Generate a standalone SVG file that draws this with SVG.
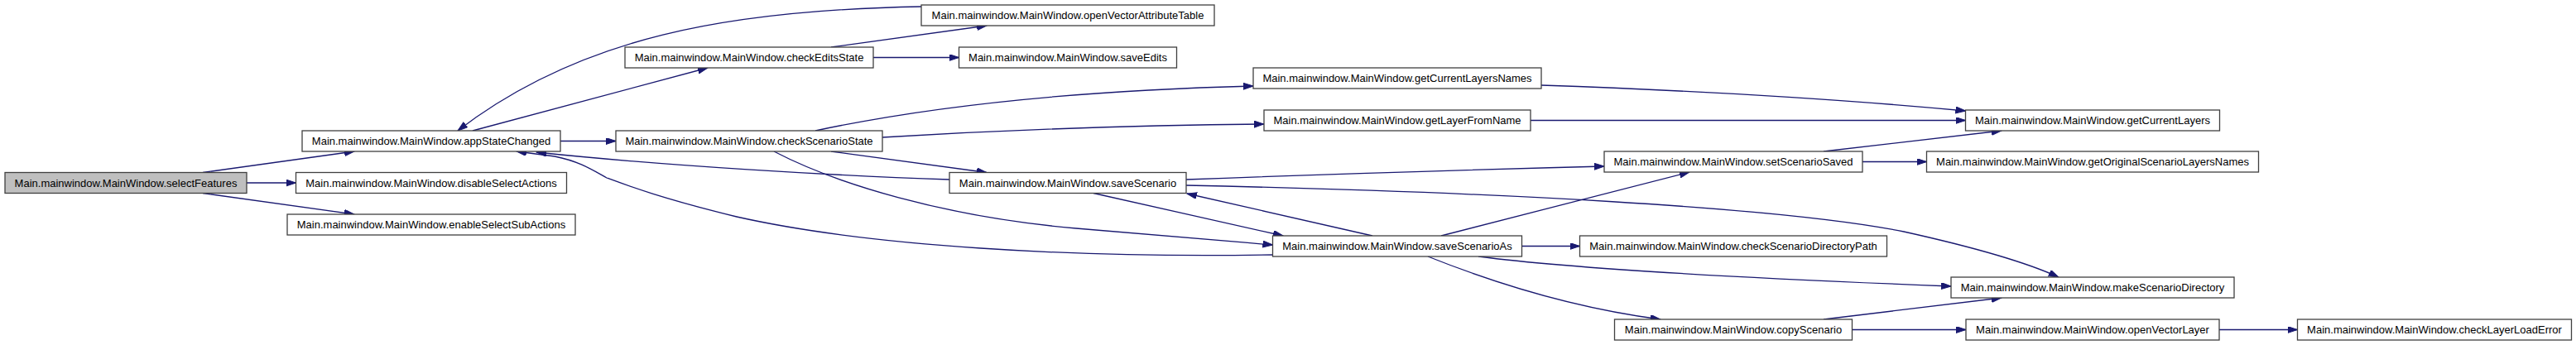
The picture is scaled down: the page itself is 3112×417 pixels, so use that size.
<svg xmlns="http://www.w3.org/2000/svg" width="3112" height="417" viewBox="0 0 3112 417">
<style>
  .node rect { fill: #ffffff; stroke: #404040; stroke-width: 1.3; }
  .node.root rect { fill: #bfbfbf; }
  .node text { font-family: "Liberation Sans", Arial, sans-serif; font-size: 13px; fill: #000000; text-anchor: middle; }
  .edges path { fill: none; stroke: #191970; stroke-width: 1.3; marker-end: url(#arr); }
</style>
<defs>
  <marker id="arr" markerWidth="13" markerHeight="9" refX="12" refY="4" orient="auto" markerUnits="userSpaceOnUse">
    <path d="M0,0 L12,4 L0,8 z" fill="#191970" stroke="#191970" stroke-width="1"/>
  </marker>
</defs>
<rect x="0" y="0" width="3112" height="417" fill="#ffffff"/>

<g id="edges" class="edges">
  <path d="M245,208.5 L428,183"/>
  <path d="M298,221 L357.5,221"/>
  <path d="M245,233.5 L428,259"/>
  <path d="M571,158 L855,82"/>
  <path d="M677,170.5 L744,170.5"/>
  <path d="M1113,8 C880,12 700,45 553,158"/>
  <path d="M1004,57 L1192,31"/>
  <path d="M1055,69.5 L1158.5,69.5"/>
  <path d="M985,158 Q1200,112 1514,104"/>
  <path d="M1066,166 Q1300,152 1527,150"/>
  <path d="M1004,183 L1192,208.5"/>
  <path d="M935,183 C1010,222 1140,262 1300,276 S1480,291 1537.5,296"/>
  <path d="M1537.5,308 C1300,312 1050,298 890,262 C800,240 760,225 733,215 C715,205 700,195 670,189 L624,183"/>
  <path d="M1147,217 C1000,212 800,200 648,184"/>
  <path d="M1321,233.5 L1550,285"/>
  <path d="M1658,285 L1434,234"/>
  <path d="M1433,217 Q1700,207 1938,201"/>
  <path d="M1433,224 C1800,232 2150,250 2300,280 C2390,300 2450,318 2487,335"/>
  <path d="M1741,285 L2041,208"/>
  <path d="M1838.5,297.5 L1908.5,297.5"/>
  <path d="M1786,310 C1900,325 2100,336 2357,346"/>
  <path d="M1725,310 C1800,340 1900,372 2006,386"/>
  <path d="M2203,183 L2418,158"/>
  <path d="M2250,195.5 L2327.5,195.5"/>
  <path d="M1862,103 Q2150,113 2374.5,134"/>
  <path d="M1849,145.5 L2374.5,145.5"/>
  <path d="M2203,386 L2418,360"/>
  <path d="M2237.5,398.5 L2375,398.5"/>
  <path d="M2681,398.5 L2775.5,398.5"/>
</g>

<g id="n_selectFeatures" class="node root"><rect x="6" y="208.5" width="292" height="25"/><text x="152" y="225.5">Main.mainwindow.MainWindow.selectFeatures</text></g>
<g id="n_appStateChanged" class="node"><rect x="365" y="158" width="312" height="25"/><text x="521" y="175">Main.mainwindow.MainWindow.appStateChanged</text></g>
<g id="n_disableSelectActions" class="node"><rect x="357.5" y="208.5" width="327" height="25"/><text x="521" y="225.5">Main.mainwindow.MainWindow.disableSelectActions</text></g>
<g id="n_enableSelectSubActions" class="node"><rect x="347" y="259" width="348" height="25"/><text x="521" y="276">Main.mainwindow.MainWindow.enableSelectSubActions</text></g>
<g id="n_checkEditsState" class="node"><rect x="755" y="57" width="300" height="25"/><text x="905" y="74">Main.mainwindow.MainWindow.checkEditsState</text></g>
<g id="n_checkScenarioState" class="node"><rect x="744" y="158" width="322" height="25"/><text x="905" y="175">Main.mainwindow.MainWindow.checkScenarioState</text></g>
<g id="n_openVectorAttributeTable" class="node"><rect x="1113" y="6" width="354" height="25"/><text x="1290" y="23">Main.mainwindow.MainWindow.openVectorAttributeTable</text></g>
<g id="n_saveEdits" class="node"><rect x="1158.5" y="57" width="263" height="25"/><text x="1290" y="74">Main.mainwindow.MainWindow.saveEdits</text></g>
<g id="n_saveScenario" class="node"><rect x="1147" y="208.5" width="286" height="25"/><text x="1290" y="225.5">Main.mainwindow.MainWindow.saveScenario</text></g>
<g id="n_getCurrentLayersNames" class="node"><rect x="1514" y="82" width="348" height="25"/><text x="1688" y="99">Main.mainwindow.MainWindow.getCurrentLayersNames</text></g>
<g id="n_getLayerFromName" class="node"><rect x="1527" y="133" width="322" height="25"/><text x="1688" y="150">Main.mainwindow.MainWindow.getLayerFromName</text></g>
<g id="n_saveScenarioAs" class="node"><rect x="1537.5" y="285" width="301" height="25"/><text x="1688" y="302">Main.mainwindow.MainWindow.saveScenarioAs</text></g>
<g id="n_setScenarioSaved" class="node"><rect x="1938" y="183" width="312" height="25"/><text x="2094" y="200">Main.mainwindow.MainWindow.setScenarioSaved</text></g>
<g id="n_checkScenarioDirectoryPath" class="node"><rect x="1908.5" y="285" width="371" height="25"/><text x="2094" y="302">Main.mainwindow.MainWindow.checkScenarioDirectoryPath</text></g>
<g id="n_copyScenario" class="node"><rect x="1950.5" y="386" width="287" height="25"/><text x="2094" y="403">Main.mainwindow.MainWindow.copyScenario</text></g>
<g id="n_getCurrentLayers" class="node"><rect x="2374.5" y="133" width="307" height="25"/><text x="2528" y="150">Main.mainwindow.MainWindow.getCurrentLayers</text></g>
<g id="n_getOriginalScenarioLayersNames" class="node"><rect x="2327.5" y="183" width="401" height="25"/><text x="2528" y="200">Main.mainwindow.MainWindow.getOriginalScenarioLayersNames</text></g>
<g id="n_makeScenarioDirectory" class="node"><rect x="2357" y="335" width="342" height="25"/><text x="2528" y="352">Main.mainwindow.MainWindow.makeScenarioDirectory</text></g>
<g id="n_openVectorLayer" class="node"><rect x="2375" y="386" width="306" height="25"/><text x="2528" y="403">Main.mainwindow.MainWindow.openVectorLayer</text></g>
<g id="n_checkLayerLoadError" class="node"><rect x="2775.5" y="386" width="331" height="25"/><text x="2941" y="403">Main.mainwindow.MainWindow.checkLayerLoadError</text></g>
</svg>
